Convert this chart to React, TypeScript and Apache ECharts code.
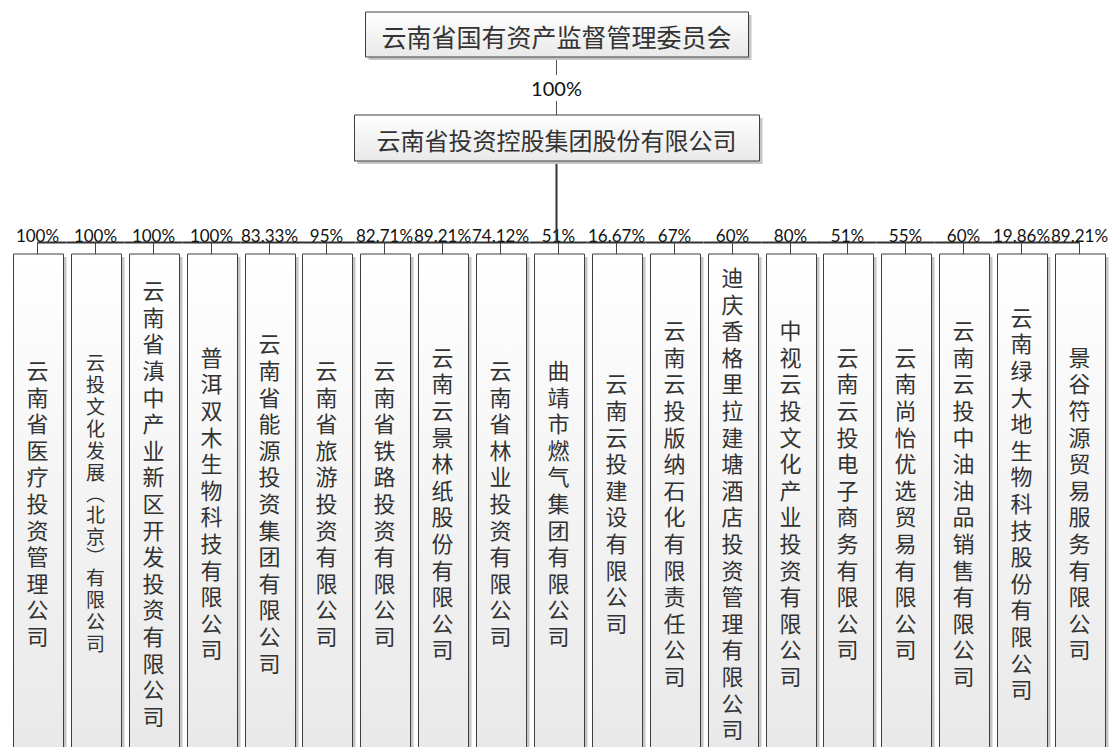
import React, { useEffect, useRef } from 'react';
import * as echarts from 'echarts';

// ---------- data ----------
const rootName = '云南省国有资产监督管理委员会';
const holdingName = '云南省投资控股集团股份有限公司';
const holdingShare = '100%';
const subsidiaries = [
  '云南省医疗投资管理公司',
  '云投文化发展（北京）有限公司',
  '云南省滇中产业新区开发投资有限公司',
  '普洱双木生物科技有限公司',
  '云南省能源投资集团有限公司',
  '云南省旅游投资有限公司',
  '云南省铁路投资有限公司',
  '云南云景林纸股份有限公司',
  '云南省林业投资有限公司',
  '曲靖市燃气集团有限公司',
  '云南云投建设有限公司',
  '云南云投版纳石化有限责任公司',
  '迪庆香格里拉建塘酒店投资管理有限公司',
  '中视云投文化产业投资有限公司',
  '云南云投电子商务有限公司',
  '云南尚怡优选贸易有限公司',
  '云南云投中油油品销售有限公司',
  '云南绿大地生物科技股份有限公司',
  '景谷符源贸易服务有限公司',
];
const shares = [
  '100%', '100%', '100%', '100%', '83.33%', '95%', '82.71%', '89.21%', '74.12%', '51%',
  '16.67%', '67%', '60%', '80%', '51%', '55%', '60%', '19.86%', '89.21%',
];

// ---------- layout (pixel rows on the hidden y axis) ----------
const W = 1109;
const H = 747;
const ROOT_TOP = 12, ROOT_BOTTOM = 57, ROOT_W = 383;
const MID_LABEL_Y = 88, MID_GAP_TOP = 75, MID_GAP_BOTTOM = 101;
const HOLD_TOP = 115, HOLD_BOTTOM = 161, HOLD_W = 405;
const BUS_Y = 242.5, SHARE_Y = 235.5;
const CHILD_TOP = 254, CHILD_BOTTOM = 750, CHILD_W = 50;

const CJK = '"Noto Sans CJK SC", "Noto Sans", sans-serif';
const LATIN = 'Lato, "Liberation Sans", sans-serif';
const BORDER = '#3f3f3f';
const SHADOW = '#c6c6c6';
const INK = '#333333';

const boxFill = () =>
  new echarts.graphic.LinearGradient(0, 0, 0, 1, [
    { offset: 0, color: '#ffffff' },
    { offset: 1, color: '#e9e9e9' },
  ]);

const isParen = (c: string) => c === '（' || c === '）';
const verticalForm = (c: string) => (c === '（' ? '︵' : c === '）' ? '︶' : c);

export default function App() {
  const ref = useRef<HTMLDivElement>(null);

  useEffect(() => {
    if (!ref.current) return;
    const chart = echarts.init(ref.current, undefined, { renderer: 'svg', width: W, height: H });
    const n = subsidiaries.length;

    const yPix = (api: any, y: number) => api.coord([0, y])[1];

    const columnText = (name: string, cx: number, cy: number, fontSize: number, lh: number) => {
      const chars = Array.from(name);
      const slots = chars.map((c) => (isParen(c) ? lh * 0.88 : lh));
      const total = slots.reduce((a, b) => a + b, 0);
      let y = cy - total / 2;
      return chars.map((c, k) => {
        const mid = y + slots[k] / 2;
        y += slots[k];
        return {
          type: 'text',
          style: {
            text: verticalForm(c),
            x: cx,
            y: mid,
            align: 'center',
            verticalAlign: 'middle',
            fontFamily: CJK,
            fontSize,
            fill: INK,
          },
        };
      });
    };

    const childItem = (params: any, api: any) => {
      const idx = api.value(0);
      const i = params.dataIndex;
      const cx = Math.round(api.coord([idx, 0])[0]) + 0.5;
      const band = api.size([1, 0])[0];
      const top = yPix(api, CHILD_TOP);
      const bottom = yPix(api, CHILD_BOTTOM);
      const bus = yPix(api, BUS_Y);
      const left = Math.round(cx - CHILD_W / 2) + 0.5;
      const busL = i === 0 ? cx : cx - band / 2;
      const busR = i === n - 1 ? cx : cx + band / 2;
      const small = i === 1;
      return {
        type: 'group',
        children: [
          { type: 'line', shape: { x1: busL, y1: bus, x2: busR, y2: bus }, style: { stroke: '#333', lineWidth: 2 } },
          { type: 'line', shape: { x1: cx, y1: bus, x2: cx, y2: top }, style: { stroke: '#444', lineWidth: 1 } },
          { type: 'rect', shape: { x: left + 3, y: top + 3, width: CHILD_W, height: bottom - top }, style: { fill: SHADOW } },
          { type: 'rect', shape: { x: left, y: top, width: CHILD_W, height: bottom - top }, style: { fill: boxFill(), stroke: BORDER, lineWidth: 1 } },
          ...columnText(subsidiaries[i], cx, (top + bottom) / 2, small ? 19 : 22, small ? 22 : 26.6),
          {
            type: 'text',
            style: {
              text: shares[i],
              x: cx,
              y: yPix(api, SHARE_Y),
              align: 'center',
              verticalAlign: 'middle',
              fontFamily: LATIN,
              fontSize: 17,
              fill: '#111',
            },
          },
        ],
      };
    };

    const parentItem = (params: any, api: any) => {
      const idx = api.value(0);
      const cx = Math.round(api.coord([idx, 0])[0]) - 1.5;
      const rT = yPix(api, ROOT_TOP), rB = yPix(api, ROOT_BOTTOM);
      const hT = yPix(api, HOLD_TOP), hB = yPix(api, HOLD_BOTTOM);
      const bus = yPix(api, BUS_Y);
      const box = (t: number, b: number, w: number, text: string, fs: number) => {
        const x = Math.round(cx - w / 2) + 0.5;
        return [
          { type: 'rect', shape: { x: x + 3, y: t + 3, width: w, height: b - t }, style: { fill: SHADOW } },
          { type: 'rect', shape: { x, y: t, width: w, height: b - t }, style: { fill: boxFill(), stroke: BORDER, lineWidth: 1 } },
          {
            type: 'text',
            style: {
              text, x: cx, y: (t + b) / 2 + 1, align: 'center', verticalAlign: 'middle',
              fontFamily: CJK, fontSize: fs, fill: INK,
            },
          },
        ];
      };
      return {
        type: 'group',
        children: [
          { type: 'line', shape: { x1: cx, y1: rB, x2: cx, y2: yPix(api, MID_GAP_TOP) }, style: { stroke: '#555', lineWidth: 1 } },
          { type: 'line', shape: { x1: cx, y1: yPix(api, MID_GAP_BOTTOM), x2: cx, y2: hT }, style: { stroke: '#555', lineWidth: 1 } },
          { type: 'line', shape: { x1: cx, y1: hB, x2: cx, y2: bus }, style: { stroke: '#333', lineWidth: 2 } },
          {
            type: 'text',
            style: {
              text: holdingShare, x: cx, y: yPix(api, MID_LABEL_Y), align: 'center', verticalAlign: 'middle',
              fontFamily: LATIN, fontSize: 20, fill: '#111',
            },
          },
          ...box(rT, rB, ROOT_W, rootName, 25),
          ...box(hT, hB, HOLD_W, holdingName, 24),
        ],
      };
    };

    chart.setOption({
      animation: false,
      backgroundColor: '#ffffff',
      grid: { left: 8, right: 1, top: 0, bottom: 0 },
      xAxis: { type: 'category', data: subsidiaries, boundaryGap: true, show: false },
      yAxis: { type: 'value', min: 0, max: H, inverse: true, show: false },
      series: [
        {
          type: 'custom',
          renderItem: childItem,
          data: subsidiaries.map((_, i) => [i, 0]),
          encode: { x: 0, y: 1 },
          silent: true,
        },
        {
          type: 'custom',
          renderItem: parentItem,
          data: [[Math.floor(subsidiaries.length / 2), 0]],
          encode: { x: 0, y: 1 },
          silent: true,
          z: 3,
        },
      ],
    });
    return () => chart.dispose();
  }, []);

  return (
    <div
      ref={ref}
      style={{ position: 'fixed', left: 0, top: 0, width: W, height: H, background: '#fff' }}
    />
  );
}
